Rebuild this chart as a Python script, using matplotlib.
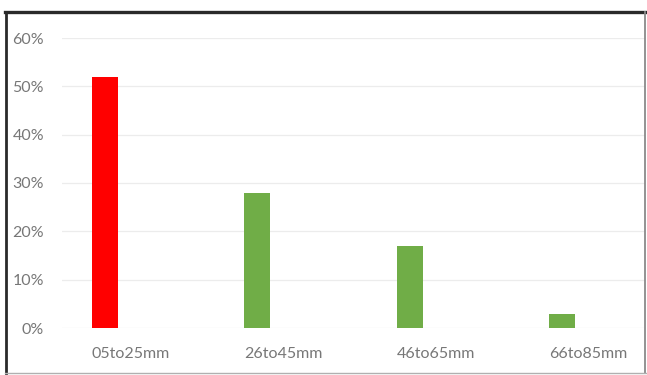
"""Share of readings by size band, column chart
"""
import matplotlib.pyplot as plt
import matplotlib.ticker as tck
from matplotlib.lines import Line2D

plt.rcParams['font.family'] = ['Lato', 'DejaVu Sans']

categories = ["05to25mm", "26to45mm", "46to65mm", "66to85mm"]
shares = [0.52, 0.28, 0.17, 0.03]
bar_colors = ["#FF0000", "#70AD47", "#70AD47", "#70AD47"]
y_ticks = [0.0, 0.1, 0.2, 0.3, 0.4, 0.5, 0.6]

W, H = 647, 375
fig = plt.figure(figsize=(W / 100, H / 100), dpi=100)
ax = fig.add_axes([62 / W, (H - 328) / H, (645 - 62) / W, (328 - 38) / H])

xs = list(range(len(categories)))
ax.bar([x - 0.171 for x in xs], shares, width=0.171, color=bar_colors, zorder=3)

ax.set_xlim(-0.453, 3.375)
ax.set_ylim(0, 0.6)
ax.set_yticks(y_ticks)
ax.yaxis.set_major_formatter(tck.PercentFormatter(1.0, decimals=0))
ax.set_xticks(xs)
ax.set_xticklabels(categories)

ax.grid(axis='y', color='#ececec', lw=0.9, zorder=0)
for side in ax.spines.values():
    side.set_visible(False)
ax.tick_params(axis='both', length=0, labelsize=11.5, colors='#777777')
ax.tick_params(axis='y', pad=13)
ax.tick_params(axis='x', pad=14)

# frame around the chart
fig.add_artist(Line2D([5 / W, 646 / W], [(H - 12) / H] * 2, color='#2a2a2a', lw=2.4))
fig.add_artist(Line2D([6 / W] * 2, [(H - 12) / H, (H - 373) / H], color='#2a2a2a', lw=2.0))
fig.add_artist(Line2D([645 / W] * 2, [(H - 12) / H, (H - 373) / H], color='#8a8a8a', lw=1.3))
fig.add_artist(Line2D([5 / W, 646 / W], [(H - 372.5) / H] * 2, color='#b0b0b0', lw=1.0))

plt.savefig("out.png", dpi=100)
